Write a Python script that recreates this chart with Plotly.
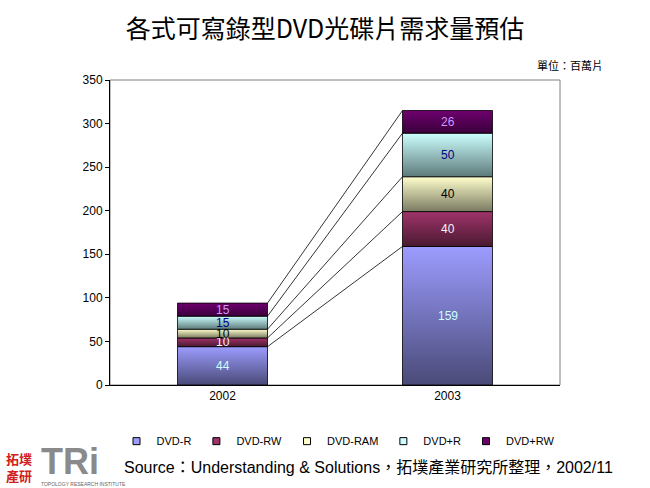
import plotly.graph_objects as go

years = ["2002", "2003"]
series = ["DVD-R", "DVD-RW", "DVD-RAM", "DVD+R", "DVD+RW"]
values = {
    "DVD-R": [44, 159],
    "DVD-RW": [10, 40],
    "DVD-RAM": [10, 40],
    "DVD+R": [15, 50],
    "DVD+RW": [15, 26],
}
y_ticks = [0, 50, 100, 150, 200, 250, 300, 350]

light = {"DVD-R": "#9C9CFF", "DVD-RW": "#A0336A", "DVD-RAM": "#FFFFCC",
         "DVD+R": "#CCFFFF", "DVD+RW": "#6E006E"}
dark = {"DVD-R": "#4A4A78", "DVD-RW": "#4A1A30", "DVD-RAM": "#7A7A62",
        "DVD+R": "#5E7A7A", "DVD+RW": "#3A003A"}
txtcol = {"DVD-R": "#CCFFFF", "DVD-RW": "#F4F4F4", "DVD-RAM": "#000000",
          "DVD+R": "#000080", "DVD+RW": "#CC99FF"}

W = 0.4
fig = go.Figure()
base = [0.0] * len(years)
tops = []
for s in series:
    vals = values[s]
    t = []
    for i, v in enumerate(vals):
        b = base[i]
        top = b + v
        x0, x1 = i - W / 2, i + W / 2
        fig.add_trace(go.Scatter(
            x=[x0, x1, x1, x0, x0], y=[b, b, top, top, b],
            mode="lines", fill="toself",
            line=dict(color="black", width=0.8),
            fillgradient=dict(type="vertical",
                              colorscale=[[0, dark[s]], [1, light[s]]]),
            name=s, showlegend=False, hoverinfo="skip"))
        fig.add_annotation(x=i, y=b + v / 2, text=str(v), showarrow=False,
                           font=dict(family="Liberation Sans, Arial", size=12,
                                     color=txtcol[s]))
        t.append(top)
    base = t
    tops.append(t)
    fig.add_trace(go.Scatter(
        x=[None], y=[None], mode="markers", name=s,
        marker=dict(symbol="square", size=7, color=light[s],
                    line=dict(color="black", width=1)),
        showlegend=True))

for t in tops:
    fig.add_trace(go.Scatter(x=[0 + W / 2, 1 - W / 2], y=[t[0], t[1]],
                             mode="lines", line=dict(color="black", width=0.8),
                             showlegend=False, hoverinfo="skip"))

fig.update_layout(
    width=650, height=488,
    margin=dict(l=110, r=90, t=80, b=103, autoexpand=False),
    paper_bgcolor="white", plot_bgcolor="white",
    font=dict(family="Liberation Sans, Arial", size=12, color="black"),
    title=dict(text="各式可寫錄型DVD光碟片需求量預估", x=0.5, xanchor="center",
               y=0.94, yanchor="middle",
               font=dict(family="Noto Sans CJK TC", size=25, color="black")),
    xaxis=dict(range=[-0.5, 1.5], tickvals=[0, 1], ticktext=years,
               showgrid=False, zeroline=False, showline=True,
               linecolor="black", mirror=False, ticks="", ticklen=0,
               tickfont=dict(size=12)),
    yaxis=dict(range=[0, 350], tickvals=y_ticks, showgrid=False,
               zeroline=False, showline=True, linecolor="black",
               ticks="outside", ticklen=4, tickcolor="black",
               tickfont=dict(size=12)),
    legend=dict(orientation="h", x=0.52, xanchor="center", xref="container",
                yref="container", y=0.096, yanchor="middle",
                font=dict(size=11), tracegroupgap=0, itemwidth=30),
    showlegend=True,
)

fig.add_shape(type="rect", xref="paper", yref="paper", x0=0, y0=0, x1=1, y1=1,
              line=dict(color="#808080", width=1), layer="below")

fig.add_annotation(xref="paper", yref="paper", x=1.1, y=1.05, xanchor="right",
                   yanchor="middle", showarrow=False, text="單位：百萬片",
                   font=dict(family="Noto Sans CJK TC", size=11))
fig.add_annotation(xref="paper", yref="paper", x=1.122, y=-0.27, xanchor="right",
                   yanchor="middle", showarrow=False,
                   text="Source：Understanding & Solutions，拓墣產業研究所整理，2002/11",
                   font=dict(family="Liberation Sans, Noto Sans CJK TC", size=16))
fig.add_annotation(xref="paper", yref="paper", x=-0.236, y=-0.27, xanchor="left",
                   yanchor="middle", showarrow=False,
                   text="<b>拓墣<br>產研</b>",
                   font=dict(family="Noto Sans CJK TC", size=13, color="#D02020"))
fig.add_annotation(xref="paper", yref="paper", x=-0.158, y=-0.252, xanchor="left",
                   yanchor="middle", showarrow=False, text="<b>TRi</b>",
                   font=dict(family="Liberation Sans", size=36, color="#8A8A8A"))
fig.add_annotation(xref="paper", yref="paper", x=-0.158, y=-0.326, xanchor="left",
                   yanchor="middle", showarrow=False, text="TOPOLOGY RESEARCH INSTITUTE",
                   font=dict(family="Liberation Sans", size=5, color="#666666"))

fig.write_html("out.html", post_script="document.body.style.margin='0';",
               config={"displayModeBar": False})
